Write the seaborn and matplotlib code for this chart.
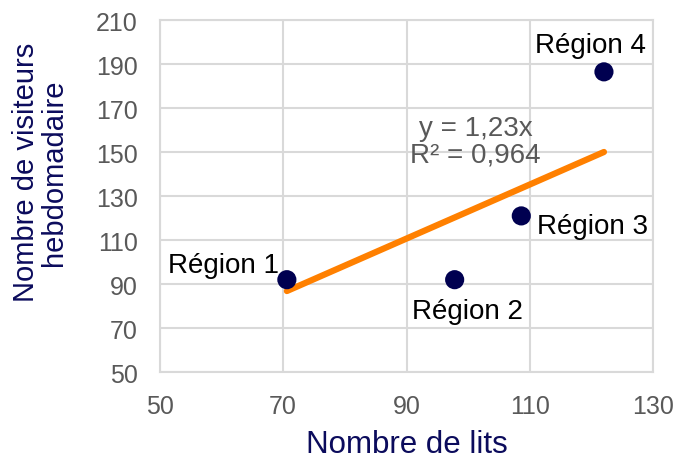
import numpy as np
import pandas as pd
import matplotlib
matplotlib.use("Agg")
import matplotlib.pyplot as plt
import seaborn as sns

# Données
regions = ["Région 1", "Région 2", "Région 3", "Région 4"]
lits = [70.6, 97.8, 108.6, 122.0]
visiteurs = [92, 92, 121, 186.5]
pente = 1.23
equation = "y = 1,23x\nR² = 0,964"
x_ticks = [50, 70, 90, 110, 130]
y_ticks = [50, 70, 90, 110, 130, 150, 170, 190, 210]

df = pd.DataFrame({"region": regions, "lits": lits, "visiteurs": visiteurs})

sns.set_theme(style="whitegrid")
plt.rcParams["font.family"] = ["Liberation Sans", "DejaVu Sans"]

navy = "#0b0b5c"
gris = "#595959"

fig = plt.figure(figsize=(6.77, 4.6), dpi=100)
ax = fig.add_axes([0.236, 0.189, 0.729, 0.765])

# Courbe de tendance (y = 1,23x)
xt = np.array([min(lits), max(lits)])
sns.lineplot(x=xt, y=pente * xt, ax=ax, color="#ff8000", linewidth=4.5,
             solid_capstyle="round", zorder=2)

sns.scatterplot(data=df, x="lits", y="visiteurs", ax=ax, color="#000050",
                s=190, edgecolor="none", zorder=3)

# Étiquettes des points
offsets = [(-6, 1, "right", "bottom"), (9, -13, "center", "top"),
           (11, -7, "left", "center"), (-10, 10, "center", "bottom")]
for (r, x, y), (dx, dy, ha, va) in zip(zip(regions, lits, visiteurs), offsets):
    ax.annotate(r, (x, y), xytext=(dx, dy), textcoords="offset points",
                ha=ha, va=va, fontsize=20, color="black")

ax.text(101.2, 155.0, equation, ha="center", va="center", fontsize=20,
        color=gris, linespacing=1.05)

ax.set_xlim(50, 130)
ax.set_ylim(50, 210)
ax.set_xticks(x_ticks)
ax.set_yticks(y_ticks)
ax.tick_params(axis="both", labelsize=18, colors=gris, length=0, pad=16)
ax.grid(True, color="#d9d9d9", linewidth=1.5)
for sp in ax.spines.values():
    sp.set_color("#d9d9d9")
    sp.set_linewidth(1.5)

ax.set_xlabel("Nombre de lits", fontsize=22.5, color=navy, labelpad=8)
ax.set_ylabel("Nombre de visiteurs\nhebdomadaire", fontsize=21, color=navy,
              linespacing=1.0)
ax.yaxis.set_label_coords(-0.185, 0.57)

fig.savefig("out.png", dpi=100)
